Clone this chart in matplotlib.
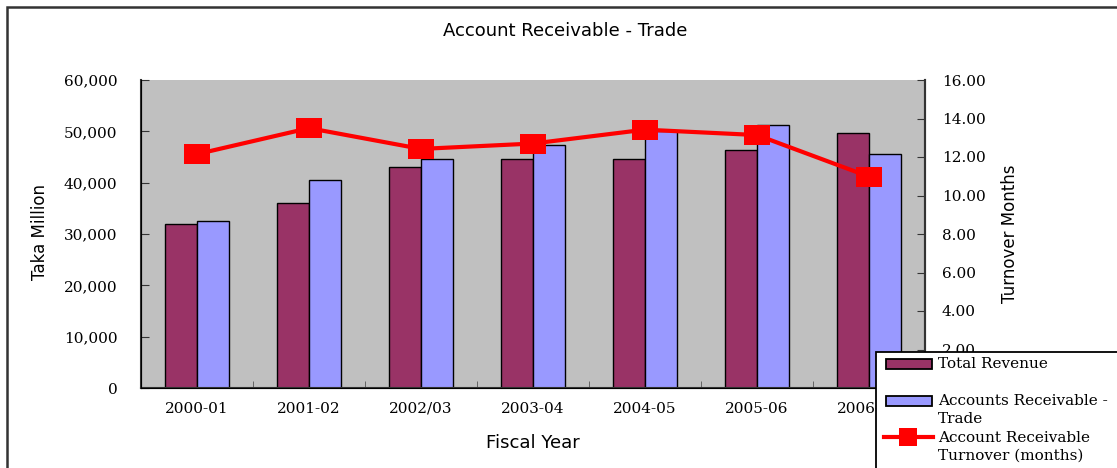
import matplotlib
matplotlib.use("Agg")
import matplotlib.pyplot as plt
from matplotlib.patches import Rectangle
from matplotlib.lines import Line2D
import numpy as np

years = ["2000-01", "2001-02", "2002/03", "2003-04", "2004-05", "2005-06", "2006-07"]
total_revenue = [32000, 36000, 43000, 44600, 44600, 46300, 49600]
accounts_receivable = [32500, 40500, 44600, 47300, 50000, 51200, 45600]
turnover_months = [12.15, 13.5, 12.42, 12.7, 13.42, 13.14, 10.98]

left_ticks = [0, 10000, 20000, 30000, 40000, 50000, 60000]
right_ticks = [0, 2, 4, 6, 8, 10, 12, 14, 16]

series_names = ["Total Revenue", "Accounts Receivable -\nTrade", "Account Receivable\nTurnover (months)"]

W, H = 1117, 468
fig = plt.figure(figsize=(W / 100, H / 100), dpi=100)


def fx(px):
    return px / W


def fy(py):
    return 1 - py / H


serif = "DejaVu Serif"
sans = "DejaVu Sans"
c_rev = "#993366"
c_ar = "#9999ff"
# wide, slightly flat square marker
marker_box = [(-1.2, -1), (1.2, -1), (1.2, 1), (-1.2, 1), (-1.2, -1)]

# outer chart frame (only its top and left edges fall inside the canvas)
fig.patches.append(Rectangle((fx(7), -0.1), 1.2, fy(7) + 0.1, transform=fig.transFigure,
                             fill=False, edgecolor="#333333", linewidth=1.8, zorder=0))

x0, x1, y0, y1 = 141, 925, 80, 388
ax = fig.add_axes([fx(x0), fy(y1), (x1 - x0) / W, (y1 - y0) / H])
ax.set_facecolor("#c0c0c0")

x = np.arange(len(years))
bw = 0.29
ax.bar(x - bw / 2, total_revenue, bw, color=c_rev, edgecolor="black", linewidth=1.0, zorder=2)
ax.bar(x + bw / 2, accounts_receivable, bw, color=c_ar, edgecolor="black", linewidth=1.0, zorder=2)

ax.set_xlim(-0.5, len(years) - 0.5)
ax.set_ylim(0, 60000)
ax.set_yticks(left_ticks)
ax.set_yticklabels([f"{v:,}" for v in left_ticks], fontfamily=serif, fontsize=11)
ax.set_xticks(x)
ax.set_xticklabels(years, fontfamily=serif, fontsize=11)
ax.tick_params(axis="x", length=0, pad=10)
ax.set_xticks(np.arange(len(years) + 1) - 0.5, minor=True)
ax.tick_params(axis="x", which="minor", direction="in", length=5, color="#555555")
ax.tick_params(axis="y", direction="in", length=6, color="#333333", pad=17)

ax.spines["top"].set_visible(False)
for s in ["left", "bottom", "right"]:
    ax.spines[s].set_color("#333333")
    ax.spines[s].set_linewidth(1.5)

ax2 = ax.twinx()
ax2.plot(x, turnover_months, color="red", linewidth=3, marker=marker_box, markersize=18,
         markerfacecolor="red", markeredgecolor="red", markeredgewidth=0, zorder=3)
ax2.set_ylim(0, 16)
ax2.set_yticks(right_ticks)
ax2.set_yticklabels([f"{v:.2f}" for v in right_ticks], fontfamily=serif, fontsize=11)
ax2.tick_params(axis="y", direction="in", length=6, color="#333333", pad=12)
ax2.spines["top"].set_visible(False)
ax2.spines["right"].set_color("#333333")
ax2.spines["right"].set_linewidth(1.5)

fig.text(fx(565), fy(31), "Account Receivable - Trade", ha="center", va="center",
         fontfamily=sans, fontsize=13)
fig.text(fx(533), fy(443), "Fiscal Year", ha="center", va="center",
         fontfamily=sans, fontsize=13)
fig.text(fx(40), fy(232), "Taka Million", ha="center", va="center", rotation=90,
         fontfamily=sans, fontsize=12)
fig.text(fx(1010), fy(234), "Turnover Months", ha="center", va="center", rotation=90,
         fontfamily=sans, fontsize=12)

# legend box, drawn over the plot in the lower right corner
fig.patches.append(Rectangle((fx(876), -0.1), 1.0, fy(352) + 0.1, transform=fig.transFigure,
                             facecolor="white", edgecolor="black", linewidth=1.3, zorder=5))
fig.patches.append(Rectangle((fx(886), fy(369)), fx(932) - fx(886), fy(359) - fy(369),
                             transform=fig.transFigure, facecolor=c_rev, edgecolor="black",
                             linewidth=1.3, zorder=6))
fig.patches.append(Rectangle((fx(886), fy(406)), fx(932) - fx(886), fy(396) - fy(406),
                             transform=fig.transFigure, facecolor=c_ar, edgecolor="black",
                             linewidth=1.3, zorder=6))
fig.lines.append(Line2D([fx(884), fx(933)], [fy(437), fy(437)], transform=fig.transFigure,
                        color="red", linewidth=3, zorder=6))
fig.lines.append(Line2D([fx(908)], [fy(437)], transform=fig.transFigure, color="red",
                        marker="s", markersize=13.5, markeredgewidth=0, zorder=7))
legend_y = [364, 410, 446.5]
for name, ly in zip(series_names, legend_y):
    fig.text(fx(938), fy(ly), name, ha="left", va="center", fontfamily=serif,
             fontsize=11, linespacing=1.35, zorder=8)

fig.savefig("out.png", dpi=100)
